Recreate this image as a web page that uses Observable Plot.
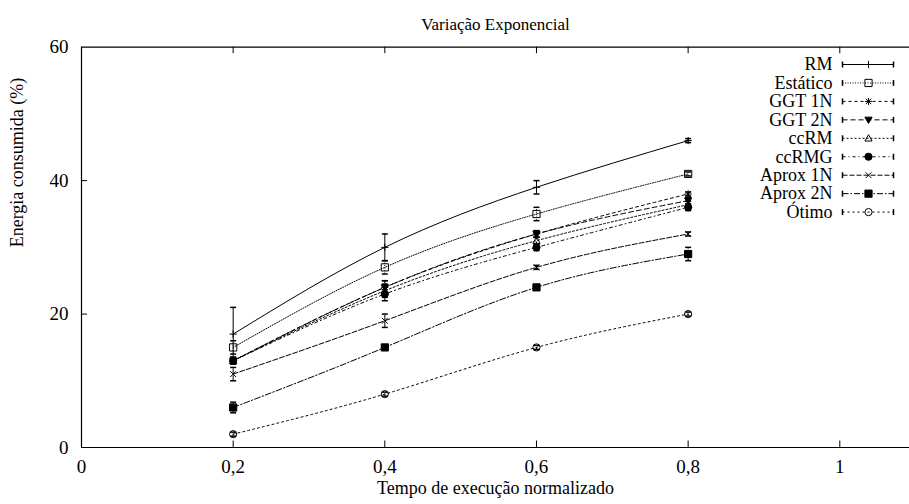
<!DOCTYPE html>
<html>
<head>
<meta charset="utf-8">
<script src="https://cdn.jsdelivr.net/npm/d3@7"></script>
<script src="https://cdn.jsdelivr.net/npm/@observablehq/plot@0.6"></script>
<style>
  body { margin: 0; background: #fff; }
  svg, svg text { font-family: "Liberation Serif", "DejaVu Serif", serif !important; }
</style>
</head>
<body>
<div id="chart"></div>
<script>
// Normalized execution time (x) at which each policy was measured
const tempo = [0.2, 0.4, 0.6, 0.8];

// Policy names, in legend order
const series = ["RM", "Estático", "GGT 1N", "GGT 2N", "ccRM", "ccRMG", "Aprox 1N", "Aprox 2N", "Ótimo"];

// Consumed energy (%) per policy
const rm       = [17, 30, 39, 46];
const estatico = [15, 27, 35, 41];
const ggt1n    = [13, 24, 32, 38];
const ggt2n    = [13, 24, 32, 37];
const ccrm     = [13, 23.5, 31, 36.4];
const ccrmg    = [13, 23, 30, 36];
const aprox1n  = [11, 19, 27, 32];
const aprox2n  = [6, 15, 24, 29];
const otimo    = [2, 8, 15, 20];

// Half-width of each error bar (%)
const rmErr       = [4, 2, 1, 0.3];
const estaticoErr = [1, 1, 1, 0.3];
const ggt1nErr    = [0.5, 1, 0.5, 0.3];
const ggt2nErr    = [0.5, 1, 0.5, 0.5];
const ccrmErr     = [0.5, 1, 0.5, 0.5];
const ccrmgErr    = [0.5, 1, 0.5, 0.5];
const aprox1nErr  = [1, 1, 0.3, 0.3];
const aprox2nErr  = [0.8, 0.3, 0.3, 1];
const otimoErr    = [0.3, 0.3, 0.3, 0.3];

// Axis ticks
const xTicks = [0, 0.2, 0.4, 0.6, 0.8, 1];
const yTicks = [0, 20, 40, 60];

const values = [rm, estatico, ggt1n, ggt2n, ccrm, ccrmg, aprox1n, aprox2n, otimo];
const errors = [rmErr, estaticoErr, ggt1nErr, ggt2nErr, ccrmErr, ccrmgErr, aprox1nErr, aprox2nErr, otimoErr];

// ---- layout -------------------------------------------------------------
const W = 909, H = 504;
const mL = 81, mR = 0, mT = 46.7, mB = 57;
const pxPerUnit = 758.3;                 // x axis: pixels per unit of normalized time
const xMax = (W - mL - mR) / pxPerUnit;  // the frame runs past the right edge of the page
const FONT = 18;
const SERIF = "Liberation Serif, DejaVu Serif, serif";

// ---- marker symbols -----------------------------------------------------
const R = (size) => Math.sqrt(size / Math.PI);
const sym = {
  plus:   {draw(c, s) { const r = R(s); c.moveTo(-r, 0); c.lineTo(r, 0); c.moveTo(0, -r); c.lineTo(0, r); }},
  times:  {draw(c, s) { const r = R(s) * 0.8; c.moveTo(-r, -r); c.lineTo(r, r); c.moveTo(-r, r); c.lineTo(r, -r); }},
  star:   {draw(c, s) { const r = R(s), q = r * 0.75;
            c.moveTo(-r, 0); c.lineTo(r, 0); c.moveTo(0, -r); c.lineTo(0, r);
            c.moveTo(-q, -q); c.lineTo(q, q); c.moveTo(-q, q); c.lineTo(q, -q); }},
  square: {draw(c, s) { const r = R(s); c.rect(-r, -r, 2 * r, 2 * r); }},
  circle: {draw(c, s) { const r = R(s); c.moveTo(r, 0); c.arc(0, 0, r, 0, 2 * Math.PI); }},
  triUp:  {draw(c, s) { const r = R(s); c.moveTo(0, -r); c.lineTo(r, r * 0.75); c.lineTo(-r, r * 0.75); c.closePath(); }},
  triDown:{draw(c, s) { const r = R(s); c.moveTo(0, r); c.lineTo(r, -r * 0.75); c.lineTo(-r, -r * 0.75); c.closePath(); }},
  hbar:   {draw(c, s) { const r = R(s); c.moveTo(-r, 0); c.lineTo(r, 0); }},
  vbar:   {draw(c, s) { const r = R(s); c.moveTo(0, -r); c.lineTo(0, r); }}
};

// line dash and point style for each policy
const looks = [
  {dash: null,          symbol: sym.plus,    fill: "none"},
  {dash: "1,1.5",       symbol: sym.square,  fill: "none"},
  {dash: "3,3",         symbol: sym.star,    fill: "none"},
  {dash: "5,3",         symbol: sym.triDown, fill: "#000"},
  {dash: "2,2",         symbol: sym.triUp,   fill: "none"},
  {dash: "3,3,1,3",     symbol: sym.circle,  fill: "#000"},
  {dash: "5,2",         symbol: sym.times,   fill: "none"},
  {dash: "6,2,1.5,2",   symbol: sym.square,  fill: "#000"},
  {dash: "2,3",         symbol: sym.circle,  fill: "none"}
];

const rows = series.map((name, i) =>
  tempo.map((t, j) => ({name, x: t, y: values[i][j], e: errors[i][j]})));

// legend placed in data space through the inverse of the scales
const pxToX = d3.scaleLinear().domain([mL, W - mR]).range([0, xMax]);
const pxToY = d3.scaleLinear().domain([H - mB, mT]).range([0, 60]);
const legTextX = pxToX(832), legX1 = pxToX(842), legX2 = pxToX(893), legMark = pxToX(868);
const legY = (i) => pxToY(64 + 18.45 * i);

const marks = [];

// frame: left, bottom, top (the right side lies beyond the page)
marks.push(Plot.ruleX([0], {y1: 0, y2: 60, stroke: "#000", strokeWidth: 1.2}));
marks.push(Plot.ruleY([0, 60], {x1: 0, x2: xMax, stroke: "#000", strokeWidth: 1.2}));

// inward ticks
const tickLenX = pxToY(H - mB - 6.5);
const tickLenY = pxToX(mL + 6);
marks.push(Plot.ruleX(xTicks.filter(d => d > 0), {x: d => d, y1: 0, y2: tickLenX, stroke: "#000"}));
marks.push(Plot.ruleX(xTicks.filter(d => d > 0), {x: d => d, y1: 60, y2: 60 - tickLenX, stroke: "#000"}));
marks.push(Plot.ruleY(yTicks.filter(d => d > 0 && d < 60), {y: d => d, x1: 0, x2: tickLenY, stroke: "#000"}));

// tick labels
marks.push(Plot.axisX(xTicks, {tickSize: 0, tickPadding: 12, fontSize: 19, fontFamily: SERIF,
  tickFormat: d => String(d).replace(".", ","), label: null}));
marks.push(Plot.axisY(yTicks, {tickSize: 0, tickPadding: 13, fontSize: 19, fontFamily: SERIF, label: null}));

// titles
marks.push(Plot.text(["Variação Exponencial"], {frameAnchor: "top", dy: -29, fontSize: 17, fontFamily: SERIF, fill: "#000"}));
marks.push(Plot.text(["Tempo de execução normalizado"], {frameAnchor: "bottom", dy: 46, fontSize: FONT, fontFamily: SERIF, fill: "#000"}));
marks.push(Plot.text(["Energia consumida (%)"], {frameAnchor: "left", dx: -64, rotate: -90, fontSize: FONT, fontFamily: SERIF, fill: "#000"}));

// policies: curve, error bars with caps, points
rows.forEach((data, i) => {
  const lk = looks[i];
  const dash = lk.dash ? {strokeDasharray: lk.dash} : {};
  marks.push(Plot.line(data, {x: "x", y: "y", curve: "natural", stroke: "#000", strokeWidth: 1, ...dash}));
  marks.push(Plot.ruleX(data, {x: "x", y1: d => d.y - d.e, y2: d => d.y + d.e, stroke: "#000", strokeWidth: 1, ...dash}));
  marks.push(Plot.dot(data, {x: "x", y: d => d.y - d.e, symbol: sym.hbar, r: 3, stroke: "#000", fill: "none"}));
  marks.push(Plot.dot(data, {x: "x", y: d => d.y + d.e, symbol: sym.hbar, r: 3, stroke: "#000", fill: "none"}));
  marks.push(Plot.dot(data, {x: "x", y: "y", symbol: lk.symbol, r: 3.6, stroke: "#000", fill: lk.fill, strokeWidth: 1}));

  // legend entry
  const ly = legY(i);
  marks.push(Plot.text([series[i]], {x: legTextX, y: ly, text: d => d, textAnchor: "end", fontSize: FONT, fontFamily: SERIF, fill: "#000"}));
  marks.push(Plot.link([series[i]], {x1: legX1, x2: legX2, y1: ly, y2: ly, stroke: "#000", strokeWidth: 1, ...dash}));
  marks.push(Plot.dot([legX1, legX2], {x: d => d, y: ly, symbol: sym.vbar, r: 3, stroke: "#000", fill: "none"}));
  marks.push(Plot.dot([series[i]], {x: legMark, y: ly, symbol: lk.symbol, r: 3.6, stroke: "#000", fill: lk.fill, strokeWidth: 1}));
});

const chart = Plot.plot({
  width: W, height: H,
  marginLeft: mL, marginRight: mR, marginTop: mT, marginBottom: mB,
  style: {fontFamily: SERIF, background: "#fff", color: "#000"},
  x: {domain: [0, xMax], axis: null},
  y: {domain: [0, 60], axis: null},
  marks
});
document.getElementById("chart").append(chart);
</script>
</body>
</html>
